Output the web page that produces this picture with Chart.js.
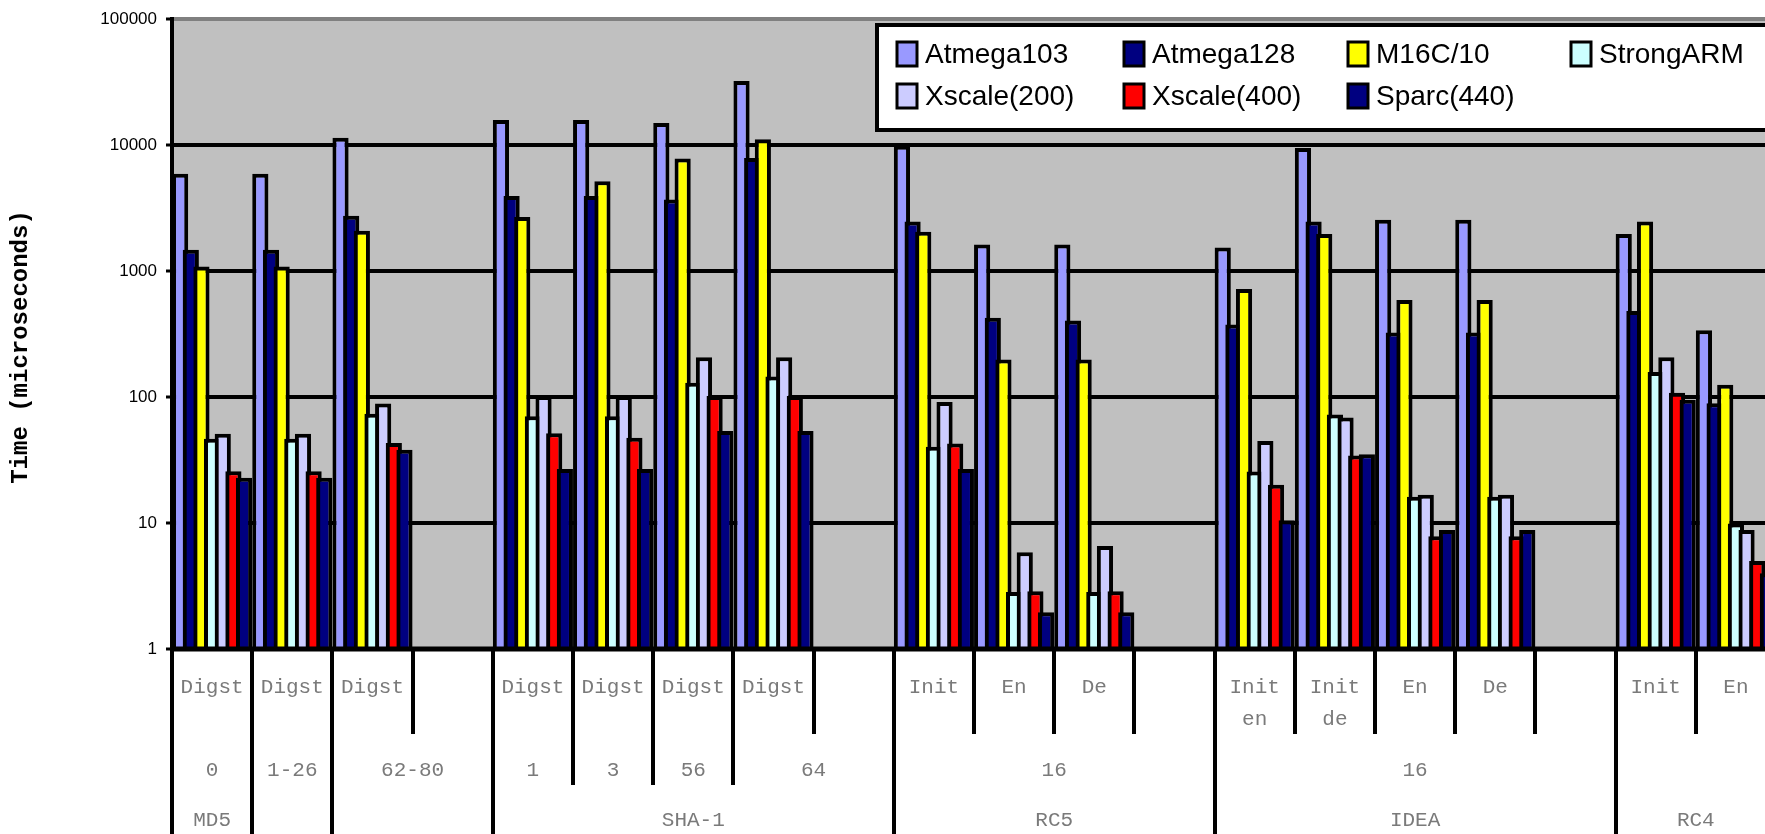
<!DOCTYPE html>
<html lang="en">
<head>
<meta charset="utf-8">
<title>Time (microseconds)</title>
<script src="https://cdn.jsdelivr.net/npm/chart.js@4.4.1/dist/chart.umd.min.js"></script>
<style>
  html, body { margin: 0; padding: 0; background: #fff; overflow: hidden; }
  #caixa { position: absolute; left: 0; top: 0; width: 1778px; height: 834px; }
</style>
</head>
<body>
<div id="caixa"><canvas id="grafico" width="1778" height="834"></canvas></div>
<script>
// ===== DADOS =====
// nível 1 do eixo: uma entrada por categoria (linhas do rótulo)
const nivel1 = [
  ["Digst"], ["Digst"], ["Digst"], [],
  ["Digst"], ["Digst"], ["Digst"], ["Digst"], [],
  ["Init"], ["En"], ["De"], [],
  ["Init", "en"], ["Init", "de"], ["En"], ["De"], [],
  ["Init"], ["En"]
];
// nível 2 e 3: grupos (primeira e última categoria)
const nivel2 = [
  { texto: "0", de: 0, ate: 0 }, { texto: "1-26", de: 1, ate: 1 }, { texto: "62-80", de: 2, ate: 3 },
  { texto: "1", de: 4, ate: 4 }, { texto: "3", de: 5, ate: 5 }, { texto: "56", de: 6, ate: 6 },
  { texto: "64", de: 7, ate: 8 }, { texto: "16", de: 9, ate: 12 }, { texto: "16", de: 13, ate: 17 },
  { texto: "", de: 18, ate: 19 }
];
const nivel3 = [
  { texto: "MD5", de: 0, ate: 0 }, { texto: "", de: 1, ate: 1 }, { texto: "", de: 2, ate: 3 },
  { texto: "SHA-1", de: 4, ate: 8 }, { texto: "RC5", de: 9, ate: 12 },
  { texto: "IDEA", de: 13, ate: 17 }, { texto: "RC4", de: 18, ate: 19 }
];

const ticksY = [1, 10, 100, 1000, 10000, 100000];

const series = ["Atmega103", "Atmega128", "M16C/10", "StrongARM", "Xscale(200)", "Xscale(400)", "Sparc(440)"];
const cores = ["#9999FF", "#000080", "#FFFF00", "#CCFFFF", "#CCCCFF", "#FF0000", "#000080"];

const atmega103 = [5940, 5940, 11430, null, 15850, 15850, 14970, 32350, null, 9900, 1630, 1630, null, 1540, 9500, 2560, 2560, null, 1970, 339];
const atmega128 = [1475, 1475, 2750, null, 3950, 3950, 3700, 7910, null, 2480, 426, 406, null, 377, 2480, 325, 325, null, 482, 89.3];
const m16c = [1086, 1086, 2090, null, 2690, 5170, 7850, 11160, null, 2050, 199, 199, null, 720, 1970, 591, 591, null, 2480, 125];
const strongArm = [46.7, 46.7, 73.9, null, 70.5, 70.5, 130, 146, null, 40.4, 2.83, 2.83, null, 25.7, 72.8, 16.2, 16.2, null, 158, 9.9];
const xscale200 = [51.2, 51.2, 88.8, null, 102, 102, 207, 207, null, 91.5, 5.86, 6.57, null, 44.9, 68.8, 16.8, 16.8, null, 207, 8.8];
const xscale400 = [25.8, 25.8, 43.1, null, 51.6, 47.6, 102, 102, null, 42.8, 2.87, 2.87, null, 20.1, 34.3, 7.86, 7.86, null, 108, 5.0];
const sparc440 = [22.9, 22.9, 38.2, null, 26.8, 26.8, 53.8, 53.8, null, 26.8, 1.96, 1.96, null, 10.5, 35.1, 8.81, 8.81, null, 95.3, 4.0];

const valores = [atmega103, atmega128, m16c, strongArm, xscale200, xscale400, sparc440];

const fonteSans = "'Liberation Sans', Arial, sans-serif";
const fonteMono = "'Liberation Mono', 'Courier New', monospace";

// ===== FUNDO CINZA DA ÁREA DO GRÁFICO =====
const fundo = {
  id: "fundo",
  beforeDraw(chart) {
    const { ctx, chartArea: a } = chart;
    ctx.save();
    ctx.fillStyle = "#fff";
    ctx.fillRect(0, 0, chart.width, chart.height);
    ctx.fillStyle = "#C0C0C0";
    ctx.fillRect(a.left, a.top, a.right - a.left, a.bottom - a.top);
    ctx.restore();
  }
};

// ===== BARRAS: a da direita por cima da da esquerda =====
const ordemDesenho = {
  id: "ordemDesenho",
  beforeDatasetsDraw(chart) {
    const { ctx, chartArea: a } = chart;
    ctx.save();
    ctx.beginPath();
    ctx.rect(a.left, a.top - 2, a.right - a.left, a.bottom - a.top + 2);
    ctx.clip();
    chart.data.datasets.forEach((ds, i) => {
      chart.getDatasetMeta(i).controller.draw();
    });
    ctx.restore();
    return false;
  }
};

// ===== EIXO X EM TABELA, LEGENDA E TÍTULO =====
const extras = {
  id: "extras",
  afterDraw(chart) {
    const { ctx, chartArea: a } = chart;
    const x = chart.scales.x;
    const passo = x.getPixelForValue(1) - x.getPixelForValue(0);
    const borda = i => x.getPixelForValue(i) - passo / 2;
    const base = a.bottom;

    ctx.save();
    // separadores
    ctx.strokeStyle = "#000";
    ctx.lineWidth = 4;
    for (let i = 0; i <= nivel1.length; i++) {
      let fim = base + 85;
      if (nivel3.some(g => g.de === i)) fim = chart.height;
      else if (nivel2.some(g => g.de === i)) fim = base + 136;
      const px = Math.round(borda(i));
      ctx.beginPath();
      ctx.moveTo(px, base);
      ctx.lineTo(px, fim);
      ctx.stroke();
    }
    // linha do eixo
    ctx.lineWidth = 5;
    ctx.beginPath();
    ctx.moveTo(a.left - 2, base);
    ctx.lineTo(chart.width, base);
    ctx.stroke();

    // rótulos
    ctx.fillStyle = "#7a7a7a";
    ctx.font = "21px " + fonteMono;
    ctx.textAlign = "center";
    ctx.textBaseline = "middle";
    nivel1.forEach((linhas, i) => {
      linhas.forEach((t, k) => ctx.fillText(t, x.getPixelForValue(i), base + 38 + k * 32));
    });
    nivel2.forEach(g => ctx.fillText(g.texto, (borda(g.de) + borda(g.ate + 1)) / 2, base + 121));
    nivel3.forEach(g => ctx.fillText(g.texto, (borda(g.de) + borda(g.ate + 1)) / 2, base + 171));

    // título do eixo Y
    ctx.save();
    ctx.translate(21, 347);
    ctx.rotate(-Math.PI / 2);
    ctx.fillStyle = "#000";
    ctx.font = "bold 24px " + fonteMono;
    ctx.fillText("Time (microseconds)", 0, 0);
    ctx.restore();

    // legenda
    ctx.fillStyle = "#fff";
    ctx.strokeStyle = "#000";
    ctx.lineWidth = 4;
    ctx.fillRect(877, 25, 1000, 105);
    ctx.strokeRect(877, 25, 1000, 105);
    const colunas = [897, 1124, 1348, 1571];
    const linhas = [54, 96];
    ctx.font = "28px " + fonteSans;
    ctx.textAlign = "left";
    ctx.lineWidth = 3;
    chart.data.datasets.forEach((ds, i) => {
      const cx = colunas[i % 4];
      const cy = linhas[Math.floor(i / 4)];
      ctx.fillStyle = ds.backgroundColor;
      ctx.fillRect(cx, cy - 12, 20, 24);
      ctx.strokeRect(cx, cy - 12, 20, 24);
      ctx.fillStyle = "#000";
      ctx.fillText(ds.label, cx + 28, cy + 1);
    });
    ctx.restore();
  }
};

// ===== GRÁFICO =====
new Chart(document.getElementById("grafico"), {
  type: "bar",
  data: {
    labels: nivel1.map(l => l.join(" ")),
    datasets: series.map((nome, i) => ({
      label: nome,
      data: valores[i],
      backgroundColor: cores[i],
      borderColor: "#000",
      borderWidth: 4,
      borderSkipped: "bottom",
      categoryPercentage: 0.93,
      barPercentage: 1.52
    }))
  },
  options: {
    responsive: false,
    animation: false,
    events: [],
    layout: { padding: { top: 17, right: 2, bottom: 0, left: 0 } },
    plugins: { legend: { display: false }, tooltip: { enabled: false } },
    scales: {
      x: {
        offset: true,
        grid: { display: false },
        border: { display: false },
        ticks: { display: false },
        afterFit: s => { s.height = 185; }
      },
      y: {
        type: "logarithmic",
        min: 1,
        max: 100000,
        afterBuildTicks: s => { s.ticks = ticksY.map(v => ({ value: v })); },
        afterFit: s => { s.width = 172; },
        ticks: {
          color: "#000",
          padding: 9,
          font: { family: fonteSans, size: 17 },
          callback: v => String(v)
        },
        grid: {
          color: c => (c.tick && c.tick.value === 100000 ? "#808080" : "#000"),
          lineWidth: c => (c.tick && c.tick.value === 100000 ? 4 : 4),
          tickColor: "#000",
          tickWidth: 3,
          tickLength: 6
        },
        border: { display: true, color: "#000", width: 4 }
      }
    }
  },
  plugins: [fundo, ordemDesenho, extras]
});
</script>
</body>
</html>
